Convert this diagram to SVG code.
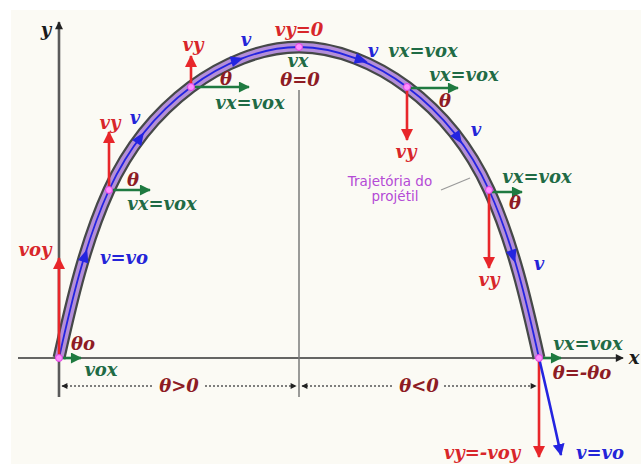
<svg xmlns="http://www.w3.org/2000/svg" width="641" height="464" viewBox="0 0 641 464">
<defs>
<style>
.m{font-family:"DejaVu Serif","Liberation Serif",serif;font-weight:bold;font-style:italic;font-size:18px;text-anchor:middle}
.r{fill:#d8262a}.g{fill:#1f6b45}.b{fill:#2424d8}.t{fill:#8e1c24}.k{fill:#1a1a1a}
.ra{stroke:#e8262a;stroke-width:2.6;fill:none}
.ga{stroke:#1f7a40;stroke-width:2.6;fill:none}
.ba{stroke:#2424e0;stroke-width:2.6;fill:none}
.dim{stroke:#555;stroke-width:1.6;stroke-dasharray:2 2;fill:none}
.pt{fill:#ff8cff;stroke:#e040e0;stroke-width:1}
</style>
<marker id="mr" viewBox="0 0 12 12" refX="11" refY="6" markerWidth="12" markerHeight="12" markerUnits="userSpaceOnUse" orient="auto"><path d="M0,0 L12,6 L0,12 Z" fill="#e8262a"/></marker>
<marker id="mg" viewBox="0 0 12 12" refX="11" refY="6" markerWidth="12" markerHeight="11" markerUnits="userSpaceOnUse" orient="auto"><path d="M0,0 L12,6 L0,12 Z" fill="#1f7a40"/></marker>
<marker id="mb" viewBox="0 0 12 12" refX="11" refY="6" markerWidth="12" markerHeight="12" markerUnits="userSpaceOnUse" orient="auto"><path d="M0,0 L12,6 L0,12 Z" fill="#2424e0"/></marker>
<marker id="mk" viewBox="0 0 10 10" refX="9" refY="5" markerWidth="9" markerHeight="8" markerUnits="userSpaceOnUse" orient="auto"><path d="M0,0 L10,5 L0,10 Z" fill="#222"/></marker>
<marker id="mks" viewBox="0 0 10 10" refX="9" refY="5" markerWidth="7" markerHeight="6" markerUnits="userSpaceOnUse" orient="auto-start-reverse"><path d="M0,0 L10,5 L0,10 Z" fill="#222"/></marker>
<path id="bh" d="M7,0 L-6,-5.5 L-6,5.5 Z" fill="#2424e0"/>
</defs>
<rect x="0" y="0" width="641" height="464" fill="#ffffff"/>
<rect x="11" y="10" width="630" height="454" fill="#fbfaf4"/>

<g id="axes">
<line x1="59" y1="397" x2="59" y2="22" stroke="#5a5a5a" stroke-width="2.6" marker-end="url(#mk)"/>
<line x1="18" y1="358" x2="623" y2="358" stroke="#333" stroke-width="1.5" marker-end="url(#mk)"/>
<line x1="299" y1="90" x2="299" y2="397" stroke="#7a7a7a" stroke-width="1.5"/>
<text class="m k" x="46" y="36" font-size="20">y</text>
<text class="m k" x="634" y="364" font-size="20">x</text>
</g>

<g id="trajectory">
<path d="M59,358 C71.6,301.4 85,242.8 109,190 C127.2,150 155.8,113.4 191,87 C221.4,64.2 261,47 299,47 C337,47 376.6,64.2 407,87 C442.2,113.4 470.8,150 489,190 C513,242.8 526.4,301.4 539,358" fill="none" stroke="#454848" stroke-width="13"/>
<path d="M59,358 C71.6,301.4 85,242.8 109,190 C127.2,150 155.8,113.4 191,87 C221.4,64.2 261,47 299,47 C337,47 376.6,64.2 407,87 C442.2,113.4 470.8,150 489,190 C513,242.8 526.4,301.4 539,358" fill="none" stroke="#b48ed8" stroke-width="8.5"/>
<path d="M59,358 C71.6,301.4 85,242.8 109,190 C127.2,150 155.8,113.4 191,87 C221.4,64.2 261,47 299,47 C337,47 376.6,64.2 407,87 C442.2,113.4 470.8,150 489,190 C513,242.8 526.4,301.4 539,358" fill="none" stroke="#2424e0" stroke-width="1.8"/>
<use href="#bh" transform="translate(85,256) rotate(-72)"/>
<use href="#bh" transform="translate(140,138) rotate(-56)"/>
<use href="#bh" transform="translate(237,60) rotate(-17)"/>
<use href="#bh" transform="translate(361,60) rotate(17)"/>
<use href="#bh" transform="translate(458,138) rotate(56)"/>
<use href="#bh" transform="translate(513,256) rotate(72)"/>
<text x="390" y="186" font-family="'DejaVu Sans','Liberation Sans',sans-serif" font-size="13.5" fill="#b44ad6" text-anchor="middle">Trajetória do</text>
<text x="395" y="201" font-family="'DejaVu Sans','Liberation Sans',sans-serif" font-size="13.5" fill="#b44ad6" text-anchor="middle">projétil</text>
<line x1="441" y1="190" x2="470" y2="178" stroke="#999" stroke-width="1.2"/>
</g>

<g id="connectors">
<line class="ra" x1="59" y1="358" x2="59" y2="258" marker-end="url(#mr)"/>
<line class="ra" x1="109" y1="190" x2="109" y2="132" marker-end="url(#mr)"/>
<line class="ra" x1="191" y1="87" x2="191" y2="56" marker-end="url(#mr)"/>
<line class="ra" x1="407" y1="88" x2="407" y2="140" marker-end="url(#mr)"/>
<line class="ra" x1="489" y1="192" x2="489" y2="268" marker-end="url(#mr)"/>
<line class="ra" x1="539" y1="358" x2="539" y2="457" marker-end="url(#mr)"/>
<path class="ba" d="M539,358 Q549,400 561,455" marker-end="url(#mb)"/>
<line class="ga" x1="59" y1="358" x2="81" y2="358" marker-end="url(#mg)"/>
<line class="ga" x1="109" y1="190" x2="150" y2="190" marker-end="url(#mg)"/>
<line class="ga" x1="191" y1="87" x2="249" y2="87" marker-end="url(#mg)"/>
<line class="ga" x1="407" y1="88" x2="458" y2="88" marker-end="url(#mg)"/>
<line class="ga" x1="489" y1="192" x2="522" y2="192" marker-end="url(#mg)"/>
<line class="ga" x1="539" y1="358" x2="561" y2="358" marker-end="url(#mg)"/>
<line class="dim" x1="62" y1="386" x2="154" y2="386" marker-start="url(#mks)"/>
<line class="dim" x1="205" y1="386" x2="296" y2="386" marker-end="url(#mks)"/>
<line class="dim" x1="302" y1="386" x2="394" y2="386" marker-start="url(#mks)"/>
<line class="dim" x1="444" y1="386" x2="536" y2="386" marker-end="url(#mks)"/>
</g>

<g id="points">
<circle class="pt" cx="59" cy="358" r="3.5"/>
<circle class="pt" cx="109" cy="190" r="3.5"/>
<circle class="pt" cx="191" cy="87" r="3.5"/>
<circle class="pt" cx="299" cy="47" r="3.5"/>
<circle class="pt" cx="407" cy="87" r="3.5"/>
<circle class="pt" cx="489" cy="190" r="3.5"/>
<circle class="pt" cx="539" cy="358" r="3.5"/>
</g>

<g id="launch">
<text class="m r" x="35" y="256">voy</text>
<text class="m b" x="124" y="264">v=vo</text>
<text class="m t" x="83" y="350" font-size="15">θo</text>
<text class="m g" x="101" y="376">vox</text>
</g>

<g id="point-left-1">
<text class="m r" x="110" y="129">vy</text>
<text class="m b" x="135" y="124">v</text>
<text class="m t" x="133" y="186" font-size="15">θ</text>
<text class="m g" x="162" y="210">vx=vox</text>
</g>

<g id="point-left-2">
<text class="m r" x="193" y="51">vy</text>
<text class="m b" x="246" y="46">v</text>
<text class="m t" x="226" y="85" font-size="15">θ</text>
<text class="m g" x="250" y="109">vx=vox</text>
</g>

<g id="apex">
<text class="m r" x="299" y="36">vy=0</text>
<text class="m g" x="298" y="67" font-size="16">vx</text>
<text class="m t" x="300" y="86">θ=0</text>
</g>

<g id="point-right-2">
<text class="m b" x="373" y="57">v</text>
<text class="m g" x="423" y="57">vx=vox</text>
<text class="m g" x="464" y="81">vx=vox</text>
<text class="m t" x="445" y="107" font-size="15">θ</text>
<text class="m r" x="406" y="158">vy</text>
<text class="m b" x="476" y="136">v</text>
</g>

<g id="point-right-1">
<text class="m g" x="537" y="183">vx=vox</text>
<text class="m t" x="515" y="209" font-size="15">θ</text>
<text class="m r" x="489" y="286">vy</text>
<text class="m b" x="539" y="270">v</text>
</g>

<g id="landing">
<text class="m g" x="588" y="350">vx=vox</text>
<text class="m t" x="582" y="379">θ=-θo</text>
<text class="m r" x="482" y="459">vy=-voy</text>
<text class="m b" x="600" y="459">v=vo</text>
</g>

<g id="dimensions">
<text class="m t" x="179" y="392">θ&gt;0</text>
<text class="m t" x="419" y="392">θ&lt;0</text>
</g>
</svg>
